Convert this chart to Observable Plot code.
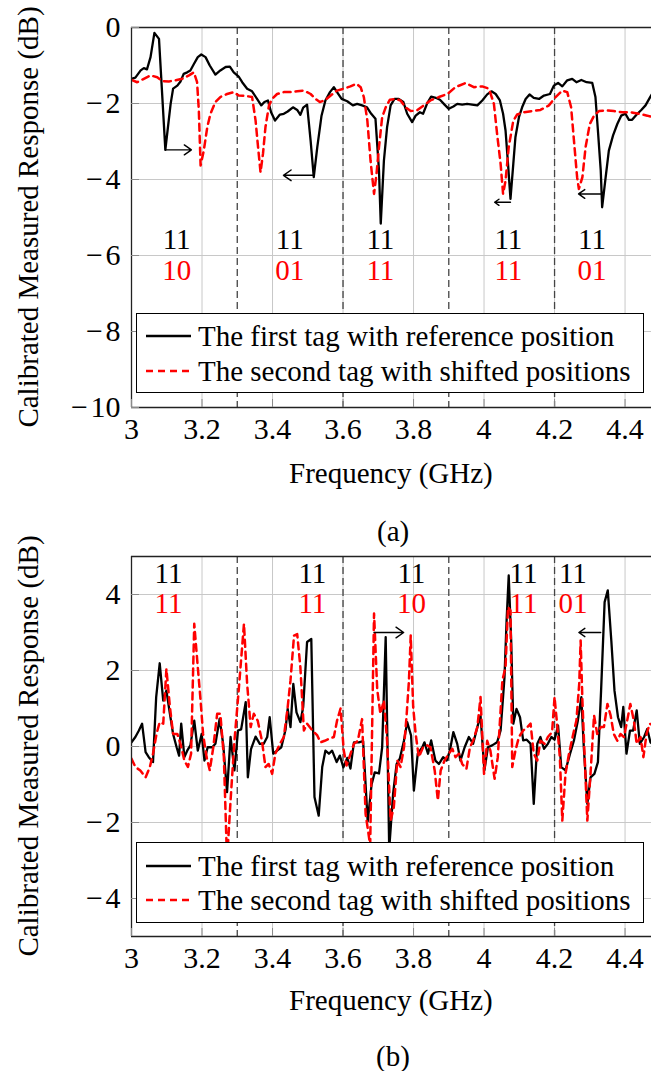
<!DOCTYPE html>
<html>
<head>
<meta charset="utf-8">
<script src="https://cdn.jsdelivr.net/npm/d3@7"></script>
<script src="https://cdn.jsdelivr.net/npm/@observablehq/plot@0.6"></script>
<style>
  html, body { margin: 0; padding: 0; background: #fff; font-family: 'Liberation Serif', Tinos, 'Times New Roman', Times, serif; }
  #page { position: relative; width: 651px; height: 1071px; overflow: hidden; background: #fff; color: #000;
          font-family: 'Liberation Serif', Tinos, 'Times New Roman', Times, serif; }
  .panel { position: absolute; left: 0; }
  .txt { position: absolute; font-size: 29px; line-height: 29px; white-space: nowrap; font-family: 'Liberation Serif', Tinos, 'Times New Roman', serif; }
  .ytitle { position: absolute; font-size: 29px; line-height: 29px; white-space: nowrap; font-family: 'Liberation Serif', Tinos, 'Times New Roman', serif;
            transform: translate(-50%, -50%) rotate(-90deg); }
  .legend { position: absolute; background: #fff; border: 1.3px solid #000; box-sizing: border-box; }
  .legrow { position: absolute; left: 0; height: 29px; display: flex; align-items: center; font-size: 29px; white-space: nowrap;
            font-family: 'Liberation Serif', Tinos, 'Times New Roman', serif; }
  .legrow svg { margin-left: 9px; margin-right: 7px; }
  svg text { font-family: 'Liberation Serif', Tinos, 'Times New Roman', serif; }
</style>
</head>
<body>
<div id="page"></div>
<script>
// ---------------- data ----------------
const xTicks = [3, 3.2, 3.4, 3.6, 3.8, 4, 4.2, 4.4];
const yTicksTop = [0, -2, -4, -6, -8, -10];
const yTicksBottom = [4, 2, 0, -2, -4];
const separators = [3.3, 3.6, 3.9, 4.2];
const seriesNames = ["The first tag with reference position", "The second tag with shifted positions"];
const xTitle = "Frequency (GHz)";
const yTitle = "Calibrated Measured Response (dB)";
const captions = ["(a)", "(b)"];

// panel (a): calibrated measured response, [GHz, dB]
const topBlack = [
  [3.000,-1.35],[3.011,-1.32],[3.026,-1.13],[3.035,-1.07],[3.044,-1.10],[3.054,-0.78],[3.065,-0.14],[3.078,-0.30],
  [3.096,-3.22],[3.111,-2.01],[3.118,-1.61],[3.130,-1.53],[3.139,-1.42],[3.148,-1.22],[3.158,-1.18],[3.167,-1.13],
  [3.177,-0.96],[3.188,-0.78],[3.198,-0.71],[3.210,-0.78],[3.222,-1.00],[3.238,-1.24],[3.252,-1.13],[3.267,-1.04],
  [3.279,-1.03],[3.290,-1.18],[3.304,-1.29],[3.314,-1.44],[3.328,-1.61],[3.342,-1.68],[3.357,-1.89],[3.368,-2.05],
  [3.377,-1.96],[3.387,-1.92],[3.396,-2.23],[3.407,-2.45],[3.421,-2.29],[3.432,-2.27],[3.443,-2.21],[3.458,-2.10],
  [3.470,-2.17],[3.479,-2.30],[3.487,-2.11],[3.498,-2.03],[3.508,-2.97],[3.517,-3.94],[3.527,-3.15],[3.539,-2.32],
  [3.550,-1.92],[3.563,-1.70],[3.574,-1.57],[3.583,-1.70],[3.596,-1.88],[3.612,-1.94],[3.628,-2.05],[3.640,-2.01],
  [3.654,-2.05],[3.668,-2.10],[3.680,-2.27],[3.692,-2.40],[3.702,-3.76],[3.707,-5.16],[3.716,-3.50],[3.725,-2.62],
  [3.735,-2.05],[3.746,-1.88],[3.758,-1.88],[3.771,-1.96],[3.782,-2.27],[3.796,-2.49],[3.806,-2.32],[3.818,-2.23],
  [3.827,-2.27],[3.839,-1.99],[3.850,-1.82],[3.863,-1.85],[3.875,-1.90],[3.888,-2.03],[3.900,-2.14],[3.913,-2.08],
  [3.924,-2.01],[3.938,-2.03],[3.952,-2.01],[3.966,-2.03],[3.981,-2.05],[3.995,-1.92],[4.009,-1.76],[4.021,-1.68],
  [4.033,-1.75],[4.045,-1.92],[4.054,-2.27],[4.061,-2.71],[4.068,-3.59],[4.075,-4.51],[4.083,-3.59],[4.089,-2.89],
  [4.099,-2.36],[4.108,-2.10],[4.118,-1.88],[4.129,-1.76],[4.141,-1.85],[4.156,-1.88],[4.170,-1.79],[4.187,-1.75],
  [4.198,-1.53],[4.210,-1.46],[4.222,-1.55],[4.236,-1.39],[4.250,-1.35],[4.262,-1.44],[4.276,-1.38],[4.291,-1.44],
  [4.307,-1.46],[4.316,-1.83],[4.323,-2.71],[4.331,-3.76],[4.335,-4.73],[4.345,-3.94],[4.354,-3.24],[4.366,-2.84],
  [4.378,-2.54],[4.389,-2.32],[4.401,-2.27],[4.411,-2.43],[4.420,-2.43],[4.433,-2.29],[4.446,-2.17],[4.458,-2.05],
  [4.472,-1.82],[4.480,-1.70]
];
const topRed = [
  [3.000,-1.38],[3.016,-1.44],[3.035,-1.35],[3.054,-1.26],[3.073,-1.31],[3.087,-1.41],[3.106,-1.42],[3.125,-1.39],
  [3.144,-1.35],[3.163,-1.26],[3.177,-1.18],[3.186,-1.44],[3.191,-2.18],[3.196,-3.63],[3.205,-3.24],[3.215,-2.62],
  [3.224,-2.27],[3.238,-1.96],[3.252,-1.83],[3.271,-1.75],[3.290,-1.70],[3.304,-1.79],[3.323,-1.80],[3.342,-1.83],
  [3.352,-2.45],[3.359,-3.15],[3.366,-3.81],[3.373,-3.32],[3.380,-2.62],[3.390,-2.05],[3.399,-1.88],[3.413,-1.75],
  [3.432,-1.70],[3.451,-1.70],[3.470,-1.68],[3.489,-1.66],[3.508,-1.75],[3.522,-1.88],[3.534,-1.96],[3.548,-1.92],
  [3.565,-1.79],[3.583,-1.66],[3.602,-1.61],[3.621,-1.55],[3.638,-1.48],[3.650,-1.57],[3.659,-1.83],[3.669,-2.45],
  [3.678,-3.50],[3.688,-4.38],[3.695,-3.85],[3.702,-3.15],[3.711,-2.36],[3.721,-2.10],[3.733,-1.90],[3.749,-1.88],
  [3.763,-1.92],[3.777,-2.10],[3.792,-2.20],[3.810,-2.18],[3.829,-2.05],[3.848,-1.92],[3.872,-1.83],[3.896,-1.75],
  [3.919,-1.57],[3.948,-1.46],[3.971,-1.57],[3.995,-1.55],[4.014,-1.61],[4.028,-2.01],[4.037,-2.80],[4.047,-3.59],
  [4.054,-4.38],[4.061,-4.03],[4.070,-3.15],[4.083,-2.45],[4.094,-2.29],[4.113,-2.23],[4.137,-2.20],[4.160,-2.17],
  [4.184,-2.05],[4.203,-1.83],[4.222,-1.66],[4.236,-1.70],[4.247,-2.10],[4.255,-2.97],[4.264,-3.94],[4.269,-4.25],
  [4.279,-3.94],[4.288,-3.15],[4.300,-2.54],[4.312,-2.32],[4.326,-2.20],[4.345,-2.18],[4.368,-2.20],[4.392,-2.23],
  [4.416,-2.23],[4.439,-2.27],[4.463,-2.32],[4.480,-2.36]
];

// panel (b)
const bottomBlack = [
  [3.000,0.11],[3.011,0.25],[3.021,0.42],[3.030,0.60],[3.040,-0.15],[3.049,-0.28],[3.061,-0.41],[3.070,1.30],
  [3.080,2.19],[3.090,1.21],[3.099,1.47],[3.109,0.86],[3.118,0.33],[3.128,-0.02],[3.135,-0.24],[3.141,0.60],
  [3.150,-0.28],[3.158,-0.11],[3.167,0.03],[3.178,0.68],[3.188,-0.11],[3.199,0.33],[3.207,-0.37],[3.216,-0.02],
  [3.229,-0.02],[3.238,0.07],[3.250,0.73],[3.260,0.07],[3.271,-1.20],[3.281,0.25],[3.292,-0.63],[3.302,0.42],
  [3.311,0.45],[3.324,1.17],[3.330,-0.81],[3.339,-0.07],[3.352,0.26],[3.364,0.07],[3.375,0.07],[3.385,0.25],
  [3.392,0.77],[3.402,-0.19],[3.413,-0.11],[3.425,-0.02],[3.437,0.45],[3.443,0.99],[3.451,0.51],[3.459,1.65],
  [3.468,0.90],[3.479,0.64],[3.487,1.04],[3.498,2.75],[3.510,2.83],[3.519,-1.33],[3.531,-1.82],[3.541,-0.54],
  [3.550,-0.11],[3.560,-0.19],[3.569,-0.11],[3.582,-0.41],[3.591,-0.24],[3.601,-0.55],[3.612,-0.30],[3.621,-0.58],
  [3.631,0.11],[3.645,0.11],[3.657,0.14],[3.670,-1.97],[3.681,-1.00],[3.690,-0.68],[3.702,-0.71],[3.711,-0.02],
  [3.721,2.88],[3.731,-2.70],[3.742,-1.25],[3.752,-0.46],[3.761,-0.32],[3.773,0.16],[3.782,0.64],[3.793,0.29],
  [3.801,-1.16],[3.812,-0.19],[3.825,-0.02],[3.831,0.11],[3.841,-0.19],[3.850,0.16],[3.862,-0.37],[3.872,-0.46],
  [3.884,-0.28],[3.894,-0.37],[3.903,-0.11],[3.913,0.38],[3.924,0.07],[3.933,-0.37],[3.945,-0.02],[3.957,0.25],
  [3.969,0.07],[3.981,0.51],[3.990,0.82],[4.001,-0.63],[4.011,-0.02],[4.023,0.03],[4.037,0.11],[4.047,0.42],
  [4.058,1.82],[4.064,3.32],[4.070,4.50],[4.077,2.79],[4.083,0.60],[4.092,0.99],[4.102,0.77],[4.111,0.16],
  [4.121,0.18],[4.132,0.07],[4.141,-1.51],[4.151,0.07],[4.160,0.25],[4.170,-0.06],[4.181,0.07],[4.191,0.25],
  [4.200,0.18],[4.210,0.55],[4.219,-0.54],[4.231,-0.63],[4.244,-0.19],[4.255,0.16],[4.266,0.68],[4.276,1.30],
  [4.283,-0.02],[4.293,-1.51],[4.302,-0.81],[4.313,-0.72],[4.323,-0.41],[4.332,1.47],[4.342,3.80],[4.351,4.11],
  [4.361,2.79],[4.370,1.47],[4.380,0.77],[4.389,0.51],[4.395,1.04],[4.404,-0.19],[4.414,0.42],[4.423,0.42],
  [4.433,0.95],[4.442,0.07],[4.454,0.25],[4.463,0.46],[4.472,0.11],[4.480,0.05]
];
const bottomRed = [
  [3.000,-0.32],[3.011,-0.54],[3.025,-0.63],[3.040,-0.81],[3.052,-0.54],[3.061,-0.19],[3.071,0.33],[3.080,0.64],
  [3.090,0.60],[3.099,2.04],[3.109,1.04],[3.118,0.33],[3.130,0.33],[3.139,0.07],[3.150,-0.37],[3.160,-0.54],
  [3.169,-0.19],[3.178,3.23],[3.188,2.09],[3.196,1.21],[3.203,0.33],[3.213,-0.28],[3.222,-0.63],[3.232,-0.02],
  [3.243,0.86],[3.252,0.86],[3.262,-0.28],[3.271,-3.00],[3.281,-1.42],[3.292,0.15],[3.304,1.47],[3.319,3.23],
  [3.328,1.65],[3.338,0.51],[3.347,0.86],[3.358,0.68],[3.370,0.15],[3.380,-0.54],[3.389,-0.46],[3.399,-0.72],
  [3.408,-0.19],[3.421,0.07],[3.432,0.25],[3.442,0.95],[3.451,1.74],[3.461,2.92],[3.470,2.96],[3.479,2.09],
  [3.489,0.42],[3.498,0.60],[3.513,0.42],[3.527,0.29],[3.536,0.11],[3.548,0.15],[3.560,0.20],[3.574,0.25],
  [3.583,0.68],[3.593,1.00],[3.602,-0.10],[3.610,-0.50],[3.621,-0.20],[3.631,0.07],[3.642,0.15],[3.654,0.72],
  [3.664,-1.77],[3.677,-2.60],[3.688,3.50],[3.697,1.50],[3.706,0.86],[3.716,1.21],[3.725,0.15],[3.735,-1.95],
  [3.744,-1.60],[3.754,-0.37],[3.763,-0.54],[3.773,-0.02],[3.780,0.77],[3.787,1.74],[3.792,2.92],[3.799,1.04],
  [3.806,0.33],[3.815,-0.28],[3.827,-0.02],[3.839,0.03],[3.848,-0.02],[3.860,-0.63],[3.869,-1.42],[3.877,-0.63],
  [3.888,-0.37],[3.900,-0.19],[3.910,-0.06],[3.919,-0.28],[3.929,-0.19],[3.938,-0.46],[3.950,-0.59],[3.960,-0.02],
  [3.969,0.15],[3.981,0.51],[3.990,1.30],[4.000,-0.72],[4.009,0.15],[4.018,-0.11],[4.030,-0.85],[4.039,-0.28],
  [4.052,1.74],[4.061,2.09],[4.068,3.67],[4.075,3.58],[4.080,-0.54],[4.089,-0.11],[4.099,0.25],[4.111,0.42],
  [4.123,0.51],[4.132,0.60],[4.141,-0.19],[4.151,-0.37],[4.160,0.15],[4.172,0.07],[4.181,0.25],[4.193,0.38],
  [4.200,1.30],[4.208,0.51],[4.215,-0.28],[4.222,-1.95],[4.231,-0.72],[4.241,-0.19],[4.253,0.33],[4.262,0.68],
  [4.270,1.65],[4.274,2.79],[4.279,1.21],[4.285,-0.19],[4.293,-1.95],[4.302,-0.72],[4.312,0.82],[4.321,0.33],
  [4.331,0.51],[4.340,0.51],[4.350,1.12],[4.359,0.82],[4.368,0.33],[4.378,0.15],[4.387,0.33],[4.397,0.25],
  [4.406,0.68],[4.415,1.12],[4.425,0.68],[4.433,0.07],[4.444,0.25],[4.452,-0.28],[4.461,0.33],[4.470,0.60],
  [4.480,0.55]
];

// code annotations (first tag row / second tag row) and where they sit (data units)
const topCodeX = [3.128, 3.449, 3.706, 4.069, 4.306];
const topCodesFirst = ["11", "11", "11", "11", "11"];
const topCodesSecond = ["10", "01", "11", "11", "01"];
const topCodeRows = [-5.58, -6.39];
const bottomCodeX = [3.105, 3.513, 3.794, 4.112, 4.252];
const bottomCodesFirst = ["11", "11", "11", "11", "11"];
const bottomCodesSecond = ["11", "11", "10", "11", "01"];
const bottomCodeRows = [4.55, 3.76];

// shift arrows (from GHz, to GHz, level)
const topArrowFrom = [3.096, 3.515, 4.075, 4.333];
const topArrowTo   = [3.170, 3.431, 4.030, 4.268];
const topArrowY    = [-3.22, -3.89, -4.60, -4.38];
const bottomArrowFrom = [3.688, 4.331];
const bottomArrowTo   = [3.772, 4.269];
const bottomArrowY    = [3.00, 3.00];

// ---------------- drawing ----------------
const FONT = "'Liberation Serif', Tinos, 'Times New Roman', Times, serif";
const page = document.getElementById("page");
const fmtY = d => d < 0 ? "\u2212\u200A" + Math.abs(d) : String(d);
const fmtX = d => String(d);
const xDomain = [3, 4.475];

function panel({yDomain, yTicks, black, red, codeX, codesFirst, codesSecond, codeRows, aFrom, aTo, aY}) {
  const codes1 = codeX.map((x, i) => ({x, t: codesFirst[i]}));
  const codes2 = codeX.map((x, i) => ({x, t: codesSecond[i]}));
  const arrows = aFrom.map((x1, i) => ({x1, x2: aTo[i], y: aY[i]}));
  const svg = Plot.plot({
    width: 651,
    height: 457,
    marginTop: 27,
    marginBottom: 50,
    marginLeft: 131,
    marginRight: 0,
    style: {fontFamily: FONT, fontSize: "30px", background: "transparent", overflow: "visible", color: "#000"},
    x: {domain: xDomain},
    y: {domain: yDomain},
    marks: [
      Plot.gridX(xTicks, {stroke: "#c8c8c8", strokeOpacity: 1, strokeWidth: 1}),
      Plot.gridY(yTicks, {stroke: "#c8c8c8", strokeOpacity: 1, strokeWidth: 1}),
      Plot.ruleX(separators, {stroke: "#444", strokeWidth: 1.3, strokeDasharray: "7,4"}),
      Plot.line(black, {x: d => d[0], y: d => d[1], stroke: "#000", strokeWidth: 2.3, strokeLinejoin: "round", clip: true}),
      Plot.line(red, {x: d => d[0], y: d => d[1], stroke: "#ff0000", strokeWidth: 2.5, strokeDasharray: "7,5", strokeLinejoin: "round", clip: true}),
      Plot.text(codes1, {x: "x", y: codeRows[0], text: "t", fill: "#000", fontSize: 29, fontFamily: FONT}),
      Plot.text(codes2, {x: "x", y: codeRows[1], text: "t", fill: "#ff0000", fontSize: 29, fontFamily: FONT}),
      Plot.arrow(arrows, {x1: "x1", x2: "x2", y1: "y", y2: "y", stroke: "#000", strokeWidth: 1.4, headLength: 10, headAngle: 70}),
      Plot.ruleY([yDomain[1]], {stroke: "#222", strokeWidth: 1.3}),
      Plot.ruleY([yDomain[0]], {stroke: "#222", strokeWidth: 1.3}),
      Plot.ruleX([xDomain[0]], {stroke: "#222", strokeWidth: 1.3}),
      Plot.axisX(xTicks, {tickSize: -8, tickPadding: 18, tickFormat: fmtX, label: null, stroke: "#8a8a8a", fill: "#000", fontSize: 30, fontFamily: FONT}),
      Plot.axisY(yTicks, {tickSize: -8, tickPadding: 19, tickFormat: fmtY, label: null, stroke: "#8a8a8a", fill: "#000", fontSize: 30, fontFamily: FONT})
    ]
  });
  svg.setAttribute("font-family", FONT);
  return svg;
}

function addText(cls, text, style) {
  const d = document.createElement("div");
  d.className = cls;
  d.textContent = text;
  Object.assign(d.style, style);
  page.appendChild(d);
  return d;
}

function addLegend(left, top, width, height, rows) {
  const box = document.createElement("div");
  box.className = "legend";
  Object.assign(box.style, {left: left + "px", top: top + "px", width: width + "px", height: height + "px"});
  const styles = [
    {stroke: "#000", dash: null, w: 2.3},
    {stroke: "#ff0000", dash: "7,5", w: 2.5}
  ];
  seriesNames.forEach((name, i) => {
    const r = document.createElement("div");
    r.className = "legrow";
    r.style.top = (rows[i] - 14.5) + "px";
    const s = styles[i];
    r.innerHTML = `<svg width="45" height="10"><line x1="0" y1="5" x2="45" y2="5" stroke="${s.stroke}" stroke-width="${s.w}" ${s.dash ? `stroke-dasharray="${s.dash}"` : ""}/></svg><span></span>`;
    r.querySelector("span").textContent = name;
    box.appendChild(r);
  });
  page.appendChild(box);
}

// panel (a)
const pa = panel({yDomain: [-10, 0], yTicks: yTicksTop, black: topBlack, red: topRed,
  codeX: topCodeX, codesFirst: topCodesFirst, codesSecond: topCodesSecond, codeRows: topCodeRows,
  aFrom: topArrowFrom, aTo: topArrowTo, aY: topArrowY});
const wa = document.createElement("div"); wa.className = "panel"; wa.style.top = "0px"; wa.appendChild(pa); page.appendChild(wa);

// panel (b)
const pb = panel({yDomain: [-5, 5], yTicks: yTicksBottom, black: bottomBlack, red: bottomRed,
  codeX: bottomCodeX, codesFirst: bottomCodesFirst, codesSecond: bottomCodesSecond, codeRows: bottomCodeRows,
  aFrom: bottomArrowFrom, aTo: bottomArrowTo, aY: bottomArrowY});
const wb = document.createElement("div"); wb.className = "panel"; wb.style.top = "529px"; wb.appendChild(pb); page.appendChild(wb);

// legends
addLegend(136, 313, 508, 80, [22, 57]);
addLegend(136, 842, 508, 81, [23, 57]);

// titles & captions
addText("ytitle", yTitle, {left: "28px", top: "217px"});
addText("ytitle", yTitle, {left: "28px", top: "746px"});
const f1 = addText("txt", xTitle, {top: "459px"});
const f2 = addText("txt", xTitle, {top: "986px"});
const c1 = addText("txt", captions[0], {top: "517px"});
const c2 = addText("txt", captions[1], {top: "1042px"});
[[f1, 391], [f2, 391], [c1, 393], [c2, 393]].forEach(([el, cx]) => {
  el.style.left = (cx - el.offsetWidth / 2) + "px";
});
</script>
</body>
</html>
